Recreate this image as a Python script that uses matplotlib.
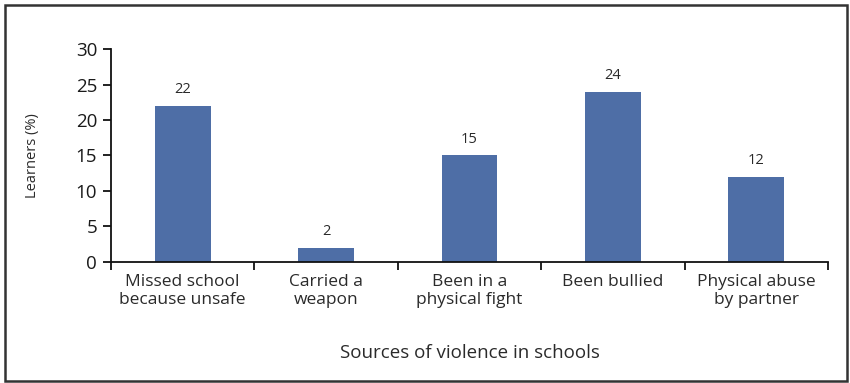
import numpy as np
import matplotlib.pyplot as plt
from matplotlib.patches import Rectangle

categories = ['Missed school\nbecause unsafe', 'Carried a\nweapon', 'Been in a\nphysical fight',
              'Been bullied', 'Physical abuse\nby partner']
values = [22, 2, 15, 24, 12]
y_ticks = [0, 5, 10, 15, 20, 25, 30]

BAR_COLOR = '#4e6ea6'
TEXT_COLOR = '#2a2a2a'

plt.rcParams['font.family'] = ['Open Sans', 'DejaVu Sans']

fig = plt.figure(figsize=(8.5, 3.83), dpi=100)
ax = fig.add_axes([0.1306, 0.316, 0.8435, 0.556])

x = np.arange(len(categories))
ax.bar(x, values, width=0.39, color=BAR_COLOR, zorder=2)

for xi, v in zip(x, values):
    ax.annotate(str(v), (xi, v), xytext=(0, 6), textcoords='offset points',
                ha='center', va='bottom', fontsize=10.5, color=TEXT_COLOR)

ax.set_xlim(-0.5, len(categories) - 0.5)
ax.set_ylim(0, 30)
ax.set_yticks(y_ticks)
ax.set_yticklabels([str(t) for t in y_ticks], fontsize=13.5, color='#1a1a1a')
ax.tick_params(axis='y', length=6, width=1.3, color='#111111', pad=4)

# ticks sit on the category boundaries, labels in the middle
ax.set_xticks(np.arange(-0.5, len(categories), 1.0))
ax.set_xticklabels([])
ax.set_xticks(x, minor=True)
ax.set_xticklabels(categories, minor=True, fontsize=12.5, color=TEXT_COLOR, linespacing=1.15)
ax.tick_params(axis='x', which='major', length=6, width=1.3, color='#111111')
ax.tick_params(axis='x', which='minor', length=0, pad=9)

for side in ['top', 'right']:
    ax.spines[side].set_visible(False)
for side in ['left', 'bottom']:
    ax.spines[side].set_linewidth(1.3)
    ax.spines[side].set_color('#111111')

ax.set_ylabel('Learners (%)', fontsize=10.5, color=TEXT_COLOR, labelpad=26)
ax.set_xlabel('Sources of violence in schools', fontsize=13.5, color=TEXT_COLOR, labelpad=26)

# frame around the whole figure
fig.patches.append(Rectangle((0.006, 0.005), 0.99, 0.982, transform=fig.transFigure,
                             fill=False, edgecolor='#333333', linewidth=1.8))

plt.savefig('out.png', dpi=100)
